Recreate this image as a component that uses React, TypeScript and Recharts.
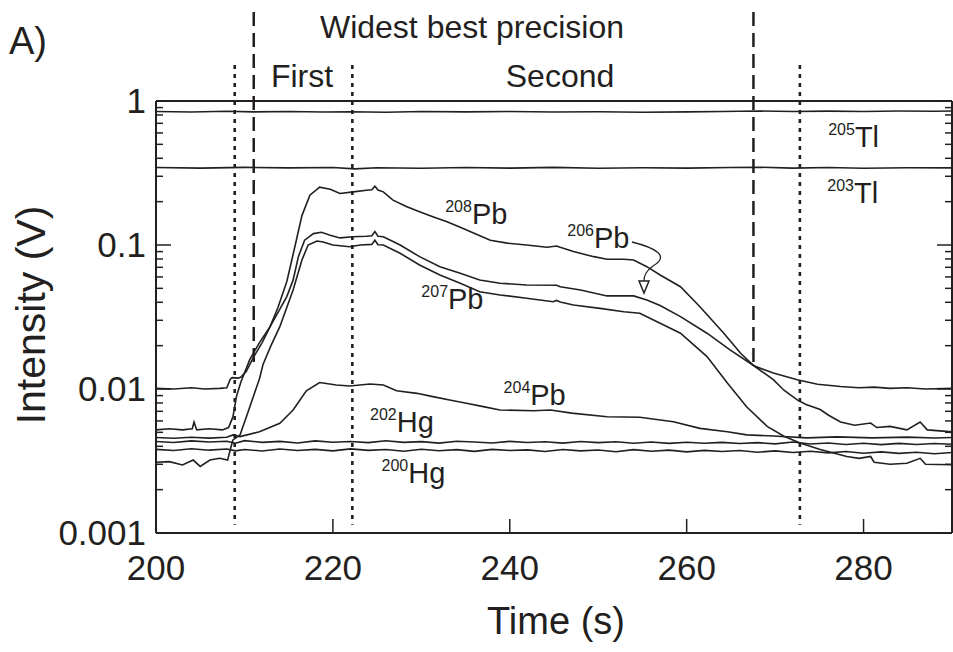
import React from 'react';
import { LineChart, Line, XAxis, YAxis, ReferenceLine, ReferenceDot } from 'recharts';

const INK = '#231f20';
const FONT = '"Liberation Sans", Arial, Helvetica, sans-serif';

// [time (s), intensity (V)]
const TL205 = [
  [200, 0.845], [204, 0.838], [208, 0.848], [211, 0.84], [215, 0.845], [219, 0.838], [222, 0.842],
  [226, 0.836], [230, 0.845], [235, 0.84], [240, 0.846], [245, 0.838], [250, 0.842], [255, 0.836],
  [260, 0.84], [264, 0.845], [268, 0.852], [272, 0.846], [276, 0.85], [280, 0.846], [284, 0.852],
  [288, 0.848], [290, 0.852],
];

const TL203 = [
  [200, 0.345], [205, 0.342], [210, 0.346], [215, 0.343], [220, 0.345], [222.5, 0.338], [225, 0.344],
  [230, 0.341], [235, 0.345], [240, 0.342], [245, 0.346], [250, 0.341], [255, 0.344], [260, 0.342],
  [265, 0.345], [268, 0.347], [272, 0.342], [276, 0.345], [280, 0.341], [285, 0.344], [290, 0.343],
];

const PB208 = [
  [200, 0.0101], [202, 0.01], [204, 0.0102], [205.5, 0.01], [207.2, 0.0101], [208, 0.0102],
  [208.4, 0.0117], [208.6, 0.012], [209.3, 0.0119], [209.6, 0.0121], [210.2, 0.0132], [211, 0.0165],
  [212, 0.021], [212.9, 0.0271], [213.8, 0.037], [214.8, 0.056], [215.9, 0.11], [216.5, 0.16],
  [217.4, 0.222], [218.5, 0.252], [219.7, 0.244], [220.8, 0.228], [222.3, 0.234], [223.8, 0.24],
  [224.4, 0.242], [224.75, 0.256], [225.1, 0.241], [225.7, 0.234], [226.8, 0.205], [228.3, 0.185],
  [229.8, 0.17], [231.3, 0.157], [232.9, 0.145], [234.4, 0.133], [235.9, 0.121], [237.8, 0.108],
  [239.7, 0.103], [241.9, 0.1], [244.2, 0.0964], [245.3, 0.0985], [245.7, 0.0965], [247.2, 0.09],
  [249.5, 0.083], [251, 0.0796], [252.9, 0.0796], [254, 0.0787], [255.5, 0.0707], [257, 0.0619],
  [259.3, 0.0513], [261.5, 0.0373], [264.2, 0.0244], [266.1, 0.0177], [267.6, 0.0145], [269.8, 0.0129],
  [272.5, 0.0116], [274.8, 0.0108], [277.4, 0.0104], [279.5, 0.0102], [281.2, 0.0103], [283, 0.0101],
  [284.9, 0.0102], [287, 0.01], [290, 0.0101],
];

const PB206 = [
  [200, 0.0052], [201.5, 0.0053], [203, 0.0052], [204.1, 0.0053], [204.3, 0.0059], [204.6, 0.0052],
  [206, 0.0053], [207.5, 0.0052], [208.2, 0.0054], [208.7, 0.0064], [209.1, 0.0089], [209.6, 0.0112],
  [210.6, 0.016], [211.7, 0.021], [212.9, 0.0271], [213.8, 0.034], [214.8, 0.044], [215.5, 0.057],
  [216.1, 0.083], [216.8, 0.108], [217.8, 0.12], [218.7, 0.1225], [219.7, 0.117], [220.8, 0.112],
  [222.3, 0.114], [223.8, 0.115], [224.4, 0.116], [224.75, 0.124], [225.1, 0.115], [225.7, 0.114],
  [227.6, 0.1], [229.8, 0.083], [232.1, 0.0707], [234.4, 0.0636], [236.6, 0.0571], [238.9, 0.0542],
  [241.9, 0.0528], [245.3, 0.0525], [245.7, 0.0513], [248, 0.0487], [251, 0.0443], [254, 0.0443],
  [255.5, 0.0415], [257, 0.038], [259.3, 0.0318], [262.3, 0.0244], [264.9, 0.0187], [267.6, 0.0145],
  [269.8, 0.0116], [271, 0.0098], [272.5, 0.0084], [273.5, 0.0078], [275.1, 0.0072], [276, 0.0066],
  [277.4, 0.0059], [279, 0.0056], [280.8, 0.0058], [281.5, 0.0054], [283, 0.0055], [284.9, 0.0052],
  [286.4, 0.0059], [287.2, 0.0052], [289, 0.0051], [290, 0.00505],
];

const PB207 = [
  [200, 0.0031], [201.5, 0.00313], [203, 0.00297], [204.2, 0.00321], [205, 0.0029], [206.1, 0.00321],
  [207.2, 0.0033], [208.1, 0.00321], [208.5, 0.004], [208.7, 0.00443], [209.5, 0.0048], [210.4, 0.0069],
  [211.7, 0.0118], [212.1, 0.0148], [213, 0.02], [214, 0.0271], [215.5, 0.0487], [216.5, 0.0787],
  [217.2, 0.1], [218.2, 0.1065], [218.9, 0.105], [220, 0.1], [221.9, 0.0973], [223.1, 0.1],
  [224.4, 0.101], [224.75, 0.108], [225.1, 0.1005], [225.7, 0.1], [227.6, 0.0876], [229.8, 0.0726],
  [232.1, 0.0619], [234.4, 0.0542], [236.6, 0.0474], [238.9, 0.045], [241.9, 0.0427], [244.9, 0.0404],
  [245.3, 0.0412], [245.7, 0.0402], [247.2, 0.0383], [250.2, 0.0363], [252.9, 0.0344], [254.7, 0.0336],
  [257, 0.0286], [259.3, 0.0244], [262.3, 0.0168], [264.6, 0.011], [266.8, 0.0075], [269.1, 0.0055],
  [271, 0.0047], [272.9, 0.0042], [275.1, 0.0038], [278.1, 0.0034], [279.5, 0.0033], [280.8, 0.0034],
  [281.2, 0.0031], [283, 0.003], [284.9, 0.00305], [286.4, 0.0033], [287, 0.003], [290, 0.00298],
];

const PB204 = [
  [200, 0.0046], [202, 0.00455], [204, 0.00462], [206, 0.00456], [208, 0.00462], [208.7, 0.0048],
  [209.5, 0.00467], [211.7, 0.00505], [214, 0.00578], [215.5, 0.00715], [217, 0.0097], [218.5, 0.0111],
  [220.4, 0.01066], [221.9, 0.0105], [224.2, 0.01084], [225.7, 0.01066], [227.2, 0.00973],
  [229.5, 0.00933], [231.3, 0.00885], [233.2, 0.00839], [235.1, 0.00796], [237, 0.00754],
  [238.9, 0.00715], [242.7, 0.00707], [244.6, 0.00715], [247, 0.0068], [251, 0.00642], [254.7, 0.00636],
  [258.5, 0.00593], [261.5, 0.00533], [264.6, 0.00505], [266.8, 0.0048], [269.8, 0.00472],
  [273.6, 0.00458], [277, 0.00465], [281, 0.00458], [285, 0.00463], [288, 0.00457], [290, 0.0046],
];

const HG202 = [
  [200, 0.00432], [202, 0.00425], [204, 0.00436], [206, 0.00428], [208, 0.00434], [209, 0.0042],
  [210, 0.00438], [212, 0.00426], [214, 0.00433], [216, 0.00422], [218, 0.00436], [220, 0.00427],
  [222, 0.00432], [224, 0.00424], [226, 0.00437], [228, 0.00426], [230, 0.00431], [232, 0.00421],
  [234, 0.00434], [236, 0.00428], [238, 0.00422], [240, 0.00433], [242, 0.00425], [244, 0.0043],
  [246, 0.00421], [248, 0.00432], [250, 0.00424], [252, 0.0043], [254, 0.0042], [256, 0.00428],
  [258, 0.00419], [260, 0.00427], [262, 0.0042], [264, 0.00426], [266, 0.00418], [268, 0.00424],
  [270, 0.00416], [272, 0.00428], [274, 0.00415], [276, 0.00422], [278, 0.00412], [280, 0.0042],
  [282, 0.00411], [284, 0.00419], [286, 0.00412], [288, 0.00418], [290, 0.00413],
];

const HG200 = [
  [200, 0.00381], [202, 0.00374], [204, 0.00385], [206, 0.00376], [208, 0.00383], [209, 0.00372],
  [210, 0.0038], [212, 0.00371], [214, 0.00383], [216, 0.00374], [218, 0.00381], [220, 0.00372],
  [222, 0.00384], [224, 0.00375], [226, 0.0038], [228, 0.0037], [230, 0.00382], [232, 0.00373],
  [234, 0.00379], [236, 0.00369], [238, 0.00381], [240, 0.00374], [242, 0.00378], [244, 0.00368],
  [246, 0.0038], [248, 0.00372], [250, 0.00377], [252, 0.00367], [254, 0.00379], [256, 0.0037],
  [258, 0.00376], [260, 0.00366], [262, 0.00375], [264, 0.00368], [266, 0.00374], [268, 0.00364],
  [270, 0.00372], [272, 0.00362], [274, 0.0037], [276, 0.0036], [278, 0.00368], [280, 0.00358],
  [282, 0.00366], [284, 0.00357], [286, 0.00364], [288, 0.00355], [290, 0.00362],
];

const SERIES = [TL205, TL203, PB208, PB206, PB207, PB204, HG202, HG200];

const X_TICKS = [200, 220, 240, 260, 280];
const Y_MAJOR = [0.001, 0.01, 0.1, 1];
const Y_MINOR = [
  0.002, 0.003, 0.004, 0.005, 0.006, 0.007, 0.008, 0.009,
  0.02, 0.03, 0.04, 0.05, 0.06, 0.07, 0.08, 0.09,
  0.2, 0.3, 0.4, 0.5, 0.6, 0.7, 0.8, 0.9,
];
const Y_TICKS = [...Y_MAJOR, ...Y_MINOR];

// integration windows
const DOTTED_AT = [208.9, 222.2, 272.8];
const DASHED_AT = [211.05, 267.55];

const ISOTOPES = [
  { mass: '205', el: 'Tl', t: 276.0, v: 0.479 },
  { mass: '203', el: 'Tl', t: 275.9, v: 0.196 },
  { mass: '208', el: 'Pb', t: 232.7, v: 0.139 },
  { mass: '206', el: 'Pb', t: 246.5, v: 0.0958 },
  { mass: '207', el: 'Pb', t: 230.0, v: 0.0357 },
  { mass: '204', el: 'Pb', t: 239.3, v: 0.00774 },
  { mass: '202', el: 'Hg', t: 224.2, v: 0.00505 },
  { mass: '200', el: 'Hg', t: 225.5, v: 0.00221 },
];

const toRows = (pts: number[][]) => pts.map(([t, v]) => ({ t, v }));

const LeftTick = (props: any) => {
  const { x, y, payload } = props;
  const major = Y_MAJOR.includes(payload.value);
  return (
    <g>
      <line x1={x} x2={x + (major ? 15 : 7)} y1={y} y2={y} stroke={INK} strokeWidth={1.5} />
      {major && (
        <text x={x - 10} y={y + 12} textAnchor="end" fontSize={35} fontFamily={FONT} fill={INK}>
          {String(payload.value)}
        </text>
      )}
    </g>
  );
};

const RightTick = (props: any) => {
  const { x, y, payload } = props;
  const major = Y_MAJOR.includes(payload.value);
  return <line x1={x} x2={x - (major ? 15 : 7)} y1={y} y2={y} stroke={INK} strokeWidth={1.5} />;
};

const BottomTick = (props: any) => {
  const { x, y, payload } = props;
  return (
    <g>
      <line x1={x} x2={x} y1={y} y2={y - 14} stroke={INK} strokeWidth={1.5} />
      <text x={x} y={y + 47} textAnchor="middle" fontSize={35} fontFamily={FONT} fill={INK}>
        {payload.value}
      </text>
    </g>
  );
};

const IsoLabel = ({ cx, cy, mass, el }: any) => (
  <text x={cx} y={cy} fontFamily={FONT} fill={INK} fontSize={29}>
    <tspan fontSize={16} dy={-12}>{mass}</tspan>
    <tspan fontSize={29} dy={12}>{el}</tspan>
  </text>
);

export default function App() {
  return (
    <div style={{ position: 'relative', width: 953, height: 652, background: '#fff' }}>
      <style>{'body{margin:0}'}</style>
      <LineChart width={953} height={652} margin={{ top: 0, right: 0, bottom: 0, left: 0 }}>
        <XAxis
          dataKey="t"
          type="number"
          domain={[200, 290]}
          allowDataOverflow
          ticks={X_TICKS}
          interval={0}
          height={119}
          tickSize={0}
          tickMargin={0}
          tickLine={false}
          axisLine={{ stroke: INK, strokeWidth: 2 }}
          tick={<BottomTick />}
        />
        <XAxis
          xAxisId="top"
          orientation="top"
          dataKey="t"
          type="number"
          domain={[200, 290]}
          allowDataOverflow
          height={101}
          tick={false}
          tickLine={false}
          axisLine={{ stroke: INK, strokeWidth: 2 }}
        />
        <YAxis
          type="number"
          scale="log"
          domain={[0.001, 1]}
          allowDataOverflow
          ticks={Y_TICKS}
          interval={0}
          width={156}
          tickSize={0}
          tickMargin={0}
          tickLine={false}
          axisLine={{ stroke: INK, strokeWidth: 2 }}
          tick={<LeftTick />}
        />
        <YAxis
          yAxisId="right"
          orientation="right"
          type="number"
          scale="log"
          domain={[0.001, 1]}
          allowDataOverflow
          ticks={Y_TICKS}
          interval={0}
          width={1}
          tickSize={0}
          tickMargin={0}
          tickLine={false}
          axisLine={{ stroke: INK, strokeWidth: 2 }}
          tick={<RightTick />}
        />
        {DOTTED_AT.map((t) => (
          <ReferenceLine
            key={`dot-${t}`}
            segment={[{ x: t, y: 1.78 }, { x: t, y: 0.00114 }]}
            ifOverflow="visible"
            stroke={INK}
            strokeWidth={2.6}
            strokeDasharray="4 5"
          />
        ))}
        {DASHED_AT.map((t) => (
          <ReferenceLine
            key={`dash-${t}`}
            segment={[{ x: t, y: 4.15 }, { x: t, y: 0.0142 }]}
            ifOverflow="visible"
            stroke={INK}
            strokeWidth={2.5}
            strokeDasharray="14 7"
          />
        ))}
        {SERIES.map((s, i) => (
          <Line
            key={i}
            data={toRows(s)}
            dataKey="v"
            stroke={INK}
            strokeWidth={1.6}
            dot={false}
            activeDot={false}
            isAnimationActive={false}
          />
        ))}
        {ISOTOPES.map((d) => (
          <ReferenceDot
            key={d.mass}
            x={d.t}
            y={d.v}
            r={1}
            ifOverflow="visible"
            shape={(p: any) => <IsoLabel cx={p.cx} cy={p.cy} mass={d.mass} el={d.el} />}
          />
        ))}
      </LineChart>
      <svg
        width={953}
        height={652}
        style={{ position: 'absolute', left: 0, top: 0, pointerEvents: 'none' }}
        fontFamily={FONT}
        fill={INK}
      >
        <text x={9} y={54} fontSize={38}>A)</text>
        <text x={472} y={38} fontSize={32} textAnchor="middle">Widest best precision</text>
        <text x={302} y={87} fontSize={32} textAnchor="middle">First</text>
        <text x={560} y={87} fontSize={32} textAnchor="middle">Second</text>
        <text x={556} y={634} fontSize={38} textAnchor="middle">Time (s)</text>
        <text transform="translate(45,315) rotate(-90)" fontSize={41} textAnchor="middle">Intensity (V)</text>
        <path d="M632 242 C656 248 670 256 653 266 C646 271 644 275 644 281" fill="none" stroke={INK} strokeWidth={1.3} />
        <polygon points="639,281 649,281 644,293" fill="#fff" stroke={INK} strokeWidth={1.5} />
      </svg>
    </div>
  );
}
